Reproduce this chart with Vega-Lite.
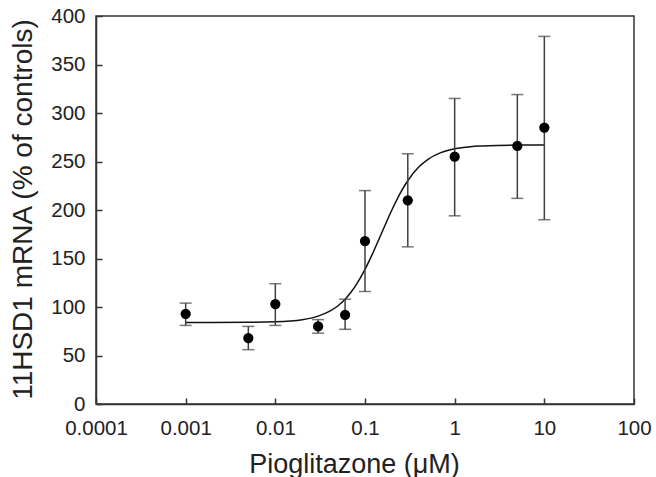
{
  "$schema": "https://vega.github.io/schema/vega-lite/v6.json",
  "autosize": "none",
  "width": 538,
  "height": 388,
  "padding": {"left": 96, "top": 16, "right": 22, "bottom": 73},
  "background": "white",
  "config": {
    "view": {"stroke": "#333333", "strokeWidth": 1.5},
    "font": "Liberation Sans",
    "axis": {"grid": false, "domainColor": "#333333", "domainWidth": 1.5, "tickColor": "#333333", "tickWidth": 1.5, "labelColor": "#222222", "titleColor": "#222222", "labelFont": "Liberation Sans", "titleFont": "Liberation Sans", "labelFontSize": 20.5, "titleFontSize": 27, "titleFontWeight": "normal"}
  },
  "datasets": {
    "curve": [
      {"dose": 0.001, "fit": 84.0}, {"dose": 0.002, "fit": 84.0}, {"dose": 0.005, "fit": 84.2},
      {"dose": 0.01, "fit": 84.7}, {"dose": 0.02, "fit": 86.9}, {"dose": 0.03, "fit": 90.6},
      {"dose": 0.04, "fit": 95.4}, {"dose": 0.05, "fit": 101.3}, {"dose": 0.06, "fit": 108.1},
      {"dose": 0.07, "fit": 115.4}, {"dose": 0.08, "fit": 123.1}, {"dose": 0.1, "fit": 138.8},
      {"dose": 0.12, "fit": 154.0}, {"dose": 0.15, "fit": 174.3}, {"dose": 0.2, "fit": 200.3},
      {"dose": 0.25, "fit": 218.2}, {"dose": 0.3, "fit": 230.2}, {"dose": 0.4, "fit": 244.5},
      {"dose": 0.5, "fit": 252.0}, {"dose": 0.7, "fit": 259.1}, {"dose": 1, "fit": 263.1},
      {"dose": 1.5, "fit": 265.3}, {"dose": 2, "fit": 266.0}, {"dose": 3, "fit": 266.6},
      {"dose": 5, "fit": 266.9}, {"dose": 10, "fit": 267.0}
    ],
    "points": [
      {"dose": 0.001, "mean": 93, "lo": 81, "hi": 104},
      {"dose": 0.005, "mean": 68, "lo": 56, "hi": 80},
      {"dose": 0.01, "mean": 103, "lo": 81, "hi": 124},
      {"dose": 0.03, "mean": 80, "lo": 73, "hi": 87},
      {"dose": 0.06, "mean": 92, "lo": 77, "hi": 108},
      {"dose": 0.1, "mean": 168, "lo": 116, "hi": 220},
      {"dose": 0.3, "mean": 210, "lo": 162, "hi": 258},
      {"dose": 1, "mean": 255, "lo": 194, "hi": 315},
      {"dose": 5, "mean": 266, "lo": 212, "hi": 319},
      {"dose": 10, "mean": 285, "lo": 190, "hi": 379}
    ]
  },
  "layer": [
    {
      "data": {"name": "curve"},
      "mark": {"type": "line", "color": "#111111", "strokeWidth": 1.5, "interpolate": "monotone"},
      "encoding": {
        "x": {"field": "dose", "type": "quantitative",
              "scale": {"type": "log", "domain": [0.0001, 100], "nice": false},
              "axis": {"title": "Pioglitazone (μM)", "values": [0.0001, 0.001, 0.01, 0.1, 1, 10, 100], "format": "~g", "tickSize": -6, "labelPadding": 20, "labelFlush": false, "labelOverlap": false, "titleX": 258, "titleY": 68, "titleBaseline": "alphabetic", "titleAlign": "center"}},
        "y": {"field": "fit", "type": "quantitative",
              "scale": {"domain": [0, 400], "nice": false},
              "axis": {"title": "11HSD1 mRNA (% of controls)", "titleFontSize": 28, "values": [0, 50, 100, 150, 200, 250, 300, 350, 400], "tickSize": -6, "labelPadding": 17, "labelFlush": false, "labelOverlap": false, "titleAngle": -90, "titleX": -73, "titleY": 193, "titleAlign": "center", "titleBaseline": "middle"}}
      }
    },
    {
      "data": {"name": "points"},
      "mark": {"type": "rule", "color": "#404040", "strokeWidth": 1.5},
      "encoding": {
        "x": {"field": "dose", "type": "quantitative"},
        "y": {"field": "lo", "type": "quantitative"},
        "y2": {"field": "hi"}
      }
    },
    {
      "data": {"name": "points"},
      "mark": {"type": "tick", "orient": "horizontal", "color": "#404040", "thickness": 1.5, "size": 12},
      "encoding": {
        "x": {"field": "dose", "type": "quantitative"},
        "y": {"field": "lo", "type": "quantitative"}
      }
    },
    {
      "data": {"name": "points"},
      "mark": {"type": "tick", "orient": "horizontal", "color": "#404040", "thickness": 1.5, "size": 12},
      "encoding": {
        "x": {"field": "dose", "type": "quantitative"},
        "y": {"field": "hi", "type": "quantitative"}
      }
    },
    {
      "data": {"name": "points"},
      "mark": {"type": "point", "filled": true, "color": "#000000", "opacity": 1, "size": 105},
      "encoding": {
        "x": {"field": "dose", "type": "quantitative"},
        "y": {"field": "mean", "type": "quantitative"}
      }
    }
  ]
}
